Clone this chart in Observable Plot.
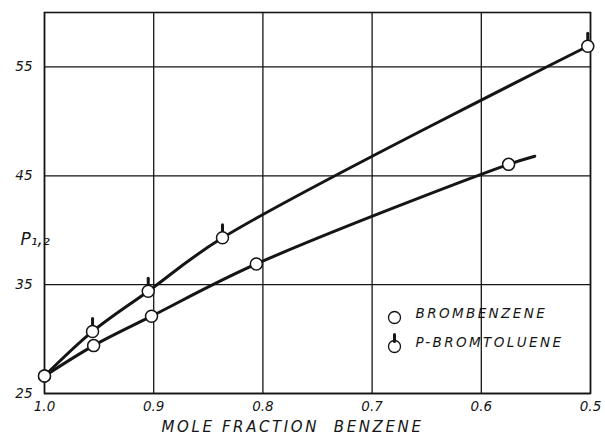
<!DOCTYPE html>
<html>
<head>
<meta charset="utf-8">
<script src="https://cdn.jsdelivr.net/npm/d3@7"></script>
<script src="https://cdn.jsdelivr.net/npm/@observablehq/plot@0.6"></script>
<style>
  html, body { margin: 0; padding: 0; background: #fff; }
  svg { font-family: "DejaVu Sans", sans-serif; font-style: italic; }
</style>
</head>
<body>
<div id="chart"></div>
<script>
// Mole fraction benzene vs P1,2
const bromX = [1.0, 0.955, 0.902, 0.806, 0.575];
const bromY = [26.6, 29.4, 32.1, 36.9, 46.05];
// the drawn curve runs a little past the last brombenzene point
const bromLineEndX = 0.551;
const bromLineEndY = 46.8;

const tolX = [1.0, 0.956, 0.905, 0.837, 0.5025];
const tolY = [26.6, 30.7, 34.4, 39.3, 56.9];

const xTicks = [1.0, 0.9, 0.8, 0.7, 0.6, 0.5];
const xTickLabels = ["1.0", "0.9", "0.8", "0.7", "0.6", "0.5"];
const yTicks = [25, 35, 45, 55];

const seriesNames = ["BROMBENZENE", "P-BROMTOLUENE"];
const xLabel = "MOLE FRACTION  BENZENE";
const yLabel = "P\u2081,\u2082";

const brom = bromX.map((x, i) => ({x, y: bromY[i]}));
const bromLine = [...brom, {x: bromLineEndX, y: bromLineEndY}];
const tol = tolX.map((x, i) => ({x, y: tolY[i]}));

const ink = "#151515";
const stem = {draw(context, l) { context.moveTo(0, 0); context.lineTo(0, -l); }};

const chart = Plot.plot({
  width: 605,
  height: 436,
  marginLeft: 44,
  marginRight: 15,
  marginTop: 12,
  marginBottom: 43,
  style: {fontFamily: "DejaVu Sans, sans-serif", fontStyle: "italic", background: "#fff"},
  x: {domain: [1.0, 0.5], ticks: xTicks},
  y: {domain: [25, 60], ticks: yTicks},
  marks: [
    Plot.gridX(xTicks, {stroke: ink, strokeOpacity: 1, strokeWidth: 1.3}),
    Plot.gridY(yTicks, {stroke: ink, strokeOpacity: 1, strokeWidth: 1.3}),
    Plot.frame({stroke: ink, strokeWidth: 1.6}),
    Plot.axisX(xTicks, {tickSize: 0, tickPadding: 8, fontSize: 13.5, label: null,
      tickFormat: (d) => xTickLabels[xTicks.indexOf(d)], fill: ink}),
    Plot.axisY(yTicks, {tickSize: 0, tickPadding: 12, fontSize: 13.5, label: null, fill: ink}),
    Plot.line(bromLine, {x: "x", y: "y", stroke: ink, strokeWidth: 3, curve: "catmull-rom"}),
    Plot.line(tol, {x: "x", y: "y", stroke: ink, strokeWidth: 3, curve: "catmull-rom"}),
    Plot.vector(tol.filter(d => d.x < 1), {x: "x", y: "y", length: 8, rotate: 0, anchor: "start",
      shape: stem, dy: -5, stroke: ink, strokeWidth: 3}),
    Plot.dot(brom, {x: "x", y: "y", r: 6, fill: "#fff", stroke: ink, strokeWidth: 1.5}),
    Plot.dot(tol, {x: "x", y: "y", r: 6, fill: "#fff", stroke: ink, strokeWidth: 1.5}),
    // legend
    Plot.dot([seriesNames[0]], {frameAnchor: "bottom-left", dx: 350, dy: -76, r: 6, fill: "#fff", stroke: ink, strokeWidth: 1.3}),
    Plot.dot([seriesNames[1]], {frameAnchor: "bottom-left", dx: 350, dy: -47, r: 6, fill: "#fff", stroke: ink, strokeWidth: 1.3}),
    Plot.vector([seriesNames[1]], {frameAnchor: "bottom-left", dx: 350, dy: -52, length: 7, rotate: 0,
      anchor: "start", shape: stem, stroke: ink, strokeWidth: 3}),
    Plot.text([seriesNames[0]], {frameAnchor: "bottom-left", dx: 371, dy: -76,
      text: d => d, textAnchor: "start", fontSize: 13.5, fill: ink}),
    Plot.text([seriesNames[1]], {frameAnchor: "bottom-left", dx: 371, dy: -47,
      text: d => d, textAnchor: "start", fontSize: 13.5, fill: ink}),
    // axis titles
    Plot.text([xLabel], {frameAnchor: "bottom", dy: 34, dx: -25, text: d => d, fontSize: 15, fill: ink,
      lineAnchor: "middle"}),
    Plot.text([yLabel], {frameAnchor: "left", dx: -24, dy: 37, text: d => d, fontSize: 17, fill: ink})
  ]
});

chart.querySelectorAll("text").forEach(t => {
  if (t.textContent.startsWith("MOLE")) t.setAttribute("letter-spacing", "2.6");
  if (seriesNames.includes(t.textContent)) t.setAttribute("letter-spacing", "2.4");
});
document.getElementById("chart").appendChild(chart);
</script>
</body>
</html>
